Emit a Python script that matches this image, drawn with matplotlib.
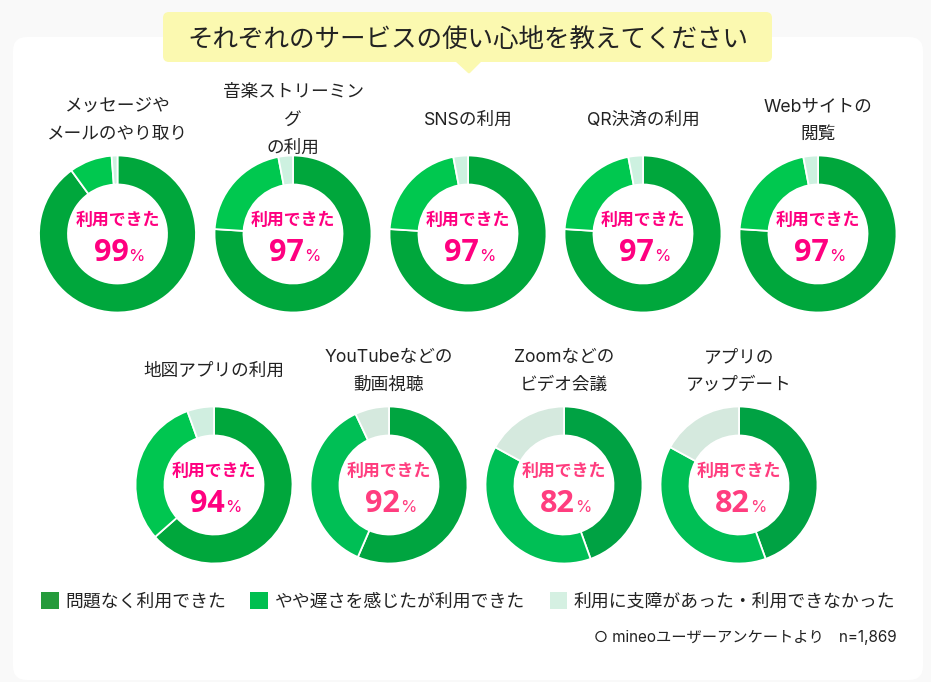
# mineo survey donuts
import matplotlib
matplotlib.use('Agg')
import matplotlib.pyplot as plt
from matplotlib.patches import FancyBboxPatch, Polygon, Rectangle

plt.rcParams['font.family'] = ['Inter', 'Noto Sans CJK JP', 'DejaVu Sans']

title = 'それぞれのサービスの使い心地を教えてください'
labels = ['メッセージや\nメールのやり取り', '音楽ストリーミン\nグ\nの利用', 'SNSの利用', 'QR決済の利用', 'Webサイトの\n閲覧',
          '地図アプリの利用', 'YouTubeなどの\n動画視聴', 'Zoomなどの\nビデオ会議', 'アプリの\nアップデート']
no_problem = [90, 76, 76, 76, 76, 63.5, 56.5, 44.5, 44.5]
slow = [8.8, 21, 21, 21, 21, 31, 36.5, 38.5, 38.5]
trouble = [1.2, 3, 3, 3, 3, 5.5, 7, 17, 17]
usable = ['99', '97', '97', '97', '97', '94', '92', '82', '82']
legend_labels = ['問題なく利用できた', 'やや遅さを感じたが利用できた', '利用に支障があった・利用できなかった']
note = '○ mineoユーザーアンケートより　n=1,869'

dark_colors = ['#00a73c'] * 6 + ['#00a540', '#00a243', '#00a243']
mid_colors = ['#00c84f'] * 5 + ['#00c650', '#00bf55', '#00bf55', '#00bf55']
light_colors = ['#cdf1e0'] * 5 + ['#d0eee0', '#d5e9de', '#d5e9de', '#d5e9de']
text_colors = ['#ff0080'] * 6 + ['#ff3d7f'] * 3
legend_colors = ['#259b3c', '#00bf50', '#d5f0e2']

centers_x = [117.5, 293, 468, 643, 818, 214, 389, 564, 739]
centers_y = [234, 234, 234, 234, 234, 485, 485, 485, 485]
H = 682

fig = plt.figure(figsize=(9.31, 6.82), dpi=100, facecolor='#f9f9f9')
ax = fig.add_axes([0, 0, 1, 1])


def py(y):
    return H - y


# card and title banner
ax.add_patch(FancyBboxPatch((13, py(680)), 910, 643, boxstyle='round,pad=0,rounding_size=14',
                            fc='white', ec='none'))
ax.add_patch(FancyBboxPatch((163, py(62)), 609, 50, boxstyle='round,pad=0,rounding_size=6',
                            fc='#fbf9b0', ec='none'))
ax.add_patch(Polygon([(457, py(61)), (480, py(61)), (469, py(72))], closed=True,
                     fc='#fbf9b0', ec='#fbf9b0', lw=2, joinstyle='round'))
ax.text(468, py(39.5), title, fontsize=18.4, color='#222222', ha='center', va='center')

for i in range(len(labels)):
    cx, cy = centers_x[i], centers_y[i]
    ax.pie([no_problem[i], slow[i], trouble[i]], center=(cx, py(cy)), radius=78.5, startangle=90,
           counterclock=False, colors=[dark_colors[i], mid_colors[i], light_colors[i]],
           wedgeprops=dict(width=29, edgecolor='white', linewidth=1.3), frame=True)
    ty = 120.5 if i < 5 else 371.5
    ax.text(cx, py(ty), labels[i], fontsize=12.7, color='#222222', ha='center', va='center',
            linespacing=1.82, multialignment='center')
    ax.text(cx, py(cy - 14), '利用できた', fontsize=12.2, fontweight='bold', color=text_colors[i],
            ha='center', va='center')
    ax.text(cx + 11, py(cy + 27), usable[i], fontsize=22, fontweight='bold', family='Open Sans',
            color=text_colors[i], ha='right', va='baseline')
    ax.text(cx + 11, py(cy + 27), '%', fontsize=12, color=text_colors[i], ha='left', va='baseline')

# legend
legend_x = [41, 250, 549.5]
for x, name, c in zip(legend_x, legend_labels, legend_colors):
    ax.add_patch(Rectangle((x, py(609)), 17.5, 17.5, fc=c, ec='none'))
    ax.text(x + 24.5, py(602), name, fontsize=12.85, color='#222222', ha='left', va='center')

ax.text(897, py(637), note, fontsize=11, color='#222222', ha='right', va='center')

ax.set_xlim(0, 931)
ax.set_ylim(0, H)
ax.set_aspect('auto')
ax.axis('off')

fig.savefig('out.png', dpi=100, facecolor=fig.get_facecolor())
